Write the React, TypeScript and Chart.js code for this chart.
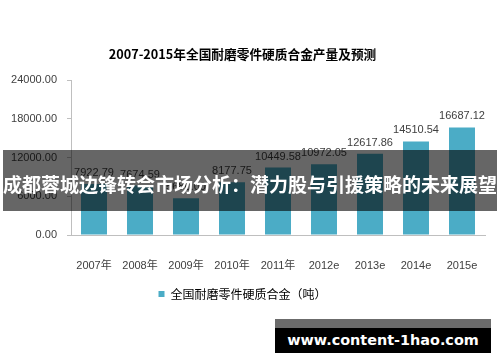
import React, { useEffect, useRef } from "react";
import { Chart, registerables } from "chart.js";

Chart.register(...registerables);

const categories = ["2007年", "2008年", "2009年", "2010年", "2011年", "2012e", "2013e", "2014e", "2015e"];
const seriesValues = [7922.79, 7674.59, 5680.0, 8177.75, 10449.58, 10972.05, 12617.86, 14510.54, 16687.12];
const seriesName = "全国耐磨零件硬质合金（吨）";
const chartTitle = "2007-2015年全国耐磨零件硬质合金产量及预测";
const yTicks = [0, 6000, 12000, 18000, 24000];
const bannerText = "成都蓉城边锋转会市场分析：潜力股与引援策略的未来展望";
const watermarkText = "www.content-1hao.com";

const LABEL_FONT = '"Liberation Sans", "Noto Sans CJK SC", sans-serif';

const valueLabels = {
  id: "valueLabels",
  afterDatasetsDraw(chart: any) {
    const ctx = chart.ctx;
    const meta = chart.getDatasetMeta(0);
    ctx.save();
    ctx.font = `11px ${LABEL_FONT}`;
    ctx.fillStyle = "#404040";
    ctx.textAlign = "center";
    ctx.textBaseline = "alphabetic";
    meta.data.forEach((el: any, i: number) => {
      const v = chart.data.datasets[0].data[i] as number;
      ctx.fillText(v.toFixed(2), el.x, el.y - 8);
    });
    ctx.restore();
  },
};

export default function App() {
  const ref = useRef<HTMLCanvasElement | null>(null);

  useEffect(() => {
    if (!ref.current) return;
    const chart = new Chart(ref.current, {
      type: "bar",
      data: {
        labels: categories,
        datasets: [
          {
            label: seriesName,
            data: seriesValues,
            backgroundColor: "#4BACC6",
            borderWidth: 0,
            barPercentage: 0.565,
            categoryPercentage: 1,
          },
        ],
      },
      options: {
        animation: false,
        responsive: false,
        maintainAspectRatio: false,
        layout: { padding: { left: 0, right: 15, top: 0, bottom: 52 } },
        plugins: {
          title: {
            display: true,
            text: chartTitle,
            color: "#000",
            font: { size: 12.7, weight: "bold", family: '"Noto Sans CJK SC", sans-serif' },
            padding: { top: 47, bottom: 18 },
          },
          legend: {
            display: true,
            position: "bottom",
            labels: {
              boxWidth: 6,
              boxHeight: 6,
              padding: 10,
              color: "#000",
              font: { size: 12, family: '"Noto Sans CJK SC", sans-serif' },
            },
          },
          tooltip: { enabled: false },
        },
        scales: {
          x: {
            grid: { display: false },
            border: { display: true, color: "#bfbfbf", width: 1 },
            ticks: {
              color: "#404040",
              padding: 16,
              font: { size: 11, family: LABEL_FONT },
              maxRotation: 0,
              autoSkip: false,
            },
            afterFit: (s: any) => {
              s.height = 43;
            },
          },
          y: {
            min: 0,
            max: 24000,
            grid: {
              display: true,
              drawOnChartArea: false,
              drawTicks: true,
              tickLength: 4,
              color: "#bfbfbf",
            },
            border: { display: true, color: "#bfbfbf", width: 1 },
            afterBuildTicks: (s: any) => {
              s.ticks = yTicks.map((v) => ({ value: v }));
            },
            ticks: {
              color: "#404040",
              padding: 10,
              font: { size: 11, family: LABEL_FONT },
              callback: (v: any) => Number(v).toFixed(2),
            },
            afterFit: (s: any) => {
              s.width = 71;
            },
          },
        },
      },
      plugins: [valueLabels],
    });
    return () => chart.destroy();
  }, []);

  return (
    <div
      style={{
        position: "fixed",
        left: 0,
        top: 0,
        width: 500,
        height: 362,
        background: "#fff",
        overflow: "hidden",
      }}
    >
      <canvas ref={ref} width={500} height={362} style={{ display: "block" }} />
      <div
        style={{
          position: "absolute",
          left: 3,
          top: 150,
          width: 494,
          height: 61,
          background: "rgba(0,0,0,0.6)",
          color: "#fff",
          fontFamily: '"Noto Sans CJK SC", sans-serif',
          fontWeight: "bold",
          fontSize: 19,
          lineHeight: "61px",
          textAlign: "center",
          whiteSpace: "nowrap",
          paddingTop: 3,
          boxSizing: "border-box",
        }}
      >
        {bannerText}
      </div>
      <div
        style={{
          position: "absolute",
          left: 275,
          top: 319,
          width: 216,
          height: 34,
          background: "linear-gradient(#6b6b6b 0px, #6b6b6b 9px, #000 9px, #000 34px)",
          color: "#fff",
          fontFamily: '"DejaVu Sans", sans-serif',
          fontWeight: "bold",
          fontSize: 14.4,
          lineHeight: "34px",
          textAlign: "center",
          whiteSpace: "nowrap",
          paddingTop: 4,
          boxSizing: "border-box",
        }}
      >
        {watermarkText}
      </div>
    </div>
  );
}
